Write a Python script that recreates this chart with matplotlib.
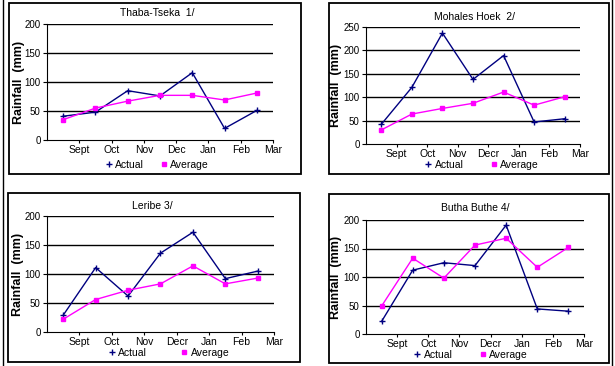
import matplotlib
matplotlib.use("Agg")
import matplotlib.pyplot as plt
from matplotlib.lines import Line2D
from matplotlib.patches import Rectangle

plt.rcParams["font.family"] = ["Liberation Sans", "DejaVu Sans"]

W, H = 615, 366

months_1 = ["Sept", "Oct", "Nov", "Dec", "Jan", "Feb", "Mar"]
months_2 = ["Sept", "Oct", "Nov", "Decr", "Jan", "Feb", "Mar"]

thaba_actual = [41, 48, 85, 76, 116, 20, 51]
thaba_average = [35, 55, 67, 77, 77, 69, 81]

mohales_actual = [42, 121, 237, 138, 189, 47, 54]
mohales_average = [30, 64, 76, 87, 111, 83, 101]

leribe_actual = [29, 111, 62, 136, 172, 92, 105]
leribe_average = [22, 56, 72, 83, 114, 83, 93]

butha_actual = [22, 112, 125, 120, 191, 44, 40]
butha_average = [49, 133, 98, 156, 168, 117, 152]

ACTUAL_C = "#000080"
AVERAGE_C = "#FF00FF"

# layout in pixels: plot area (x0, x1, ytop, ybot), panel box, title pos, legend pos, ylabel x, gap
panels = [
    dict(title="Thaba-Tseka  1/", act=thaba_actual, avg=thaba_average, months=months_1, ymax=200,
         plot=(47, 273, 24, 140), box=(9, 301, 3, 174), tpos=(157, 13), lpos=(157, 165), ylx=19, gap=1.6),
    dict(title="Mohales Hoek  2/", act=mohales_actual, avg=mohales_average, months=months_2, ymax=250,
         plot=(366, 580, 27, 144), box=(329, 609, 3, 174), tpos=(475, 17), lpos=(482, 165), ylx=336, gap=2.6),
    dict(title="Leribe 3/", act=leribe_actual, avg=leribe_average, months=months_2, ymax=200,
         plot=(47, 274, 216, 332), box=(8, 300, 193, 362), tpos=(152, 206), lpos=(169, 353), ylx=18, gap=3.3),
    dict(title="Butha Buthe 4/", act=butha_actual, avg=butha_average, months=months_2, ymax=200,
         plot=(366, 584, 220, 334), box=(329, 609, 194, 363), tpos=(475, 208), lpos=(471, 355), ylx=336, gap=2.6),
]

fig = plt.figure(figsize=(W / 100, H / 100), dpi=100)
fig.patch.set_facecolor("white")

# outer frame lines
fig.add_artist(Line2D([3 / W, 3 / W], [0, 1], color="black", lw=1, transform=fig.transFigure))
fig.add_artist(Line2D([612 / W, 612 / W], [0, 1], color="black", lw=1, transform=fig.transFigure))

x = [i + 0.5 for i in range(7)]

for p in panels:
    bx0, bx1, by0, by1 = p["box"]
    fig.add_artist(Rectangle((bx0 / W, 1 - by1 / H), (bx1 - bx0) / W, (by1 - by0) / H,
                             fill=False, edgecolor="black", lw=1.3, transform=fig.transFigure))

    x0, x1, yt, yb = p["plot"]
    ax = fig.add_axes([x0 / W, 1 - yb / H, (x1 - x0) / W, (yb - yt) / H])
    ax.set_xlim(0, 7)
    ax.set_ylim(0, p["ymax"])
    ticks = list(range(0, p["ymax"] + 1, 50))
    ax.set_yticks(ticks)
    for t in ticks[1:]:
        ax.axhline(t, color="black", lw=1, zorder=1)
    ax.set_xticks(range(1, 8))
    ax.set_xticklabels(p["months"], fontsize=7.5)
    ax.tick_params(axis="y", labelsize=7, length=3, width=0.8, colors="black", pad=1.5)
    ax.tick_params(axis="x", length=2, width=0.8, pad=1.5)
    for s in ["top", "right"]:
        ax.spines[s].set_visible(False)
    for s in ["left", "bottom"]:
        ax.spines[s].set_linewidth(0.8)

    ax.plot(x, p["act"], color=ACTUAL_C, lw=1, marker="+", ms=4, mew=1, zorder=3)
    ax.plot(x, p["avg"], color=AVERAGE_C, lw=1, marker="s", ms=2.5, zorder=3)
    ax.set_ylabel("Rainfall  (mm)", fontsize=9, fontweight="bold", va="center",
                  family=["Liberation Sans Narrow", "Liberation Sans", "DejaVu Sans"])
    ax.yaxis.set_label_coords((p["ylx"] - x0) / (x1 - x0), 0.5)

    tx, ty = p["tpos"]
    fig.text(tx / W, 1 - ty / H, p["title"], ha="center", va="center", fontsize=7.5)

    handles = [Line2D([], [], color=ACTUAL_C, marker="+", ls="none", ms=4, mew=1),
               Line2D([], [], color=AVERAGE_C, marker="s", ls="none", ms=2.5)]
    lx, ly = p["lpos"]
    fig.legend(handles, ["Actual", "Average"], loc="center", bbox_to_anchor=(lx / W, 1 - ly / H),
               ncol=2, frameon=False, fontsize=7.5, handlelength=0.6, handletextpad=0.3,
               columnspacing=p["gap"], borderpad=0)

fig.savefig("out.png", dpi=100, facecolor="white")
plt.close(fig)
